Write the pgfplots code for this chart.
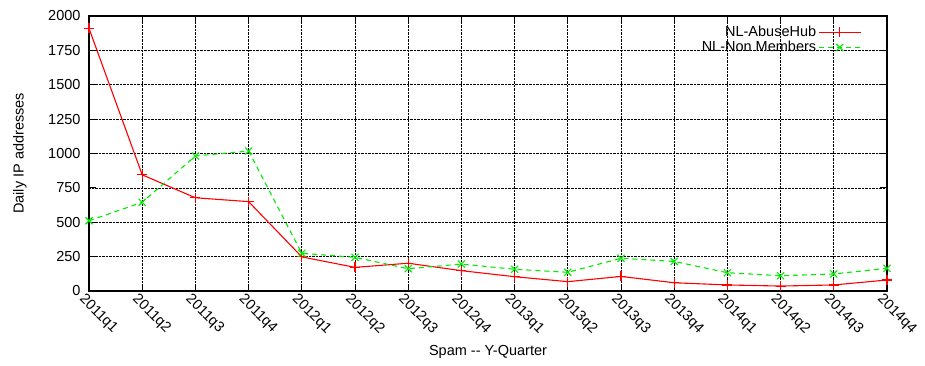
\documentclass[border=0pt]{standalone}
\usepackage{pgfplots}
\pgfplotsset{compat=1.18}
\usetikzlibrary{calc}
\usepackage{fontspec}
\setmainfont{Liberation Sans}
\definecolor{gpgreen}{RGB}{0,235,0}
\begin{document}
\begin{tikzpicture}
\begin{axis}[
  scale only axis, width=798pt, height=275pt,
  font=\fontsize{14.5}{16}\selectfont,
  xmin=0, xmax=15, ymin=0, ymax=2000,
  xtick={0,...,15},
  xticklabels={2011q1,2011q2,2011q3,2011q4,2012q1,2012q2,2012q3,2012q4,2013q1,2013q2,2013q3,2013q4,2014q1,2014q2,2014q3,2014q4},
  xticklabel style={rotate=-45, anchor=north west, inner sep=1pt, xshift=-2pt, yshift=-2pt},
  ytick={0,250,...,2000},
  /pgf/number format/assume math mode=true,
  yticklabel style={/pgf/number format/fixed, /pgf/number format/1000 sep={}, xshift=-5pt},
  scaled y ticks=false,
  grid=major,
  major grid style={black, densely dotted, line width=0.7pt},
  axis line style={black, line width=1.3pt},
  tick style={black, line width=1pt},
  tick align=inside, major tick length=7pt,
  xlabel={Spam -{}- Y-Quarter},
  ylabel={Daily IP addresses},
  xlabel style={at={(axis description cs:0.5,0)}, anchor=center, yshift=-61pt},
  ylabel style={at={(axis description cs:0,0.5)}, anchor=center, rotate=0, yshift=69pt},
  legend style={draw=none, fill=none, at={(0.968,0.97)}, anchor=north east, inner sep=0pt, font=\fontsize{14.5}{15}\selectfont, row sep=-1pt},
  legend cell align=right,
  legend plot pos=right,
  legend image code/.code={\draw[mark repeat=2, mark phase=2] plot coordinates {(0pt,0pt) (21pt,0pt) (42pt,0pt)};},
]
\coordinate (bl) at (rel axis cs:0,0);
\coordinate (tr) at (rel axis cs:1,1);
\addplot[red, line width=1.1pt, mark=+, mark size=5pt, mark options={solid, line width=1.1pt}] coordinates {
(0,1910) (1,845) (2,678) (3,650) (4,248) (5,172) (6,202) (7,148) (8,104) (9,68) (10,106) (11,60) (12,44) (13,36) (14,44) (15,80)};
\addlegendentry{NL-AbuseHub}
\addplot[gpgreen, line width=1.1pt, dash pattern=on 5pt off 4pt, mark=x, mark size=5pt, mark options={solid, line width=1.1pt}] coordinates {
(0,511) (1,645) (2,982) (3,1018) (4,274) (5,245) (6,162) (7,196) (8,158) (9,136) (10,238) (11,215) (12,133) (13,111) (14,124) (15,165)};
\addlegendentry{NL-Non Members}
\end{axis}
\pgfresetboundingbox
\path ($(bl)+(-89pt,-74pt)$) rectangle ($(tr)+(38pt,16pt)$);
\end{tikzpicture}
\end{document}
